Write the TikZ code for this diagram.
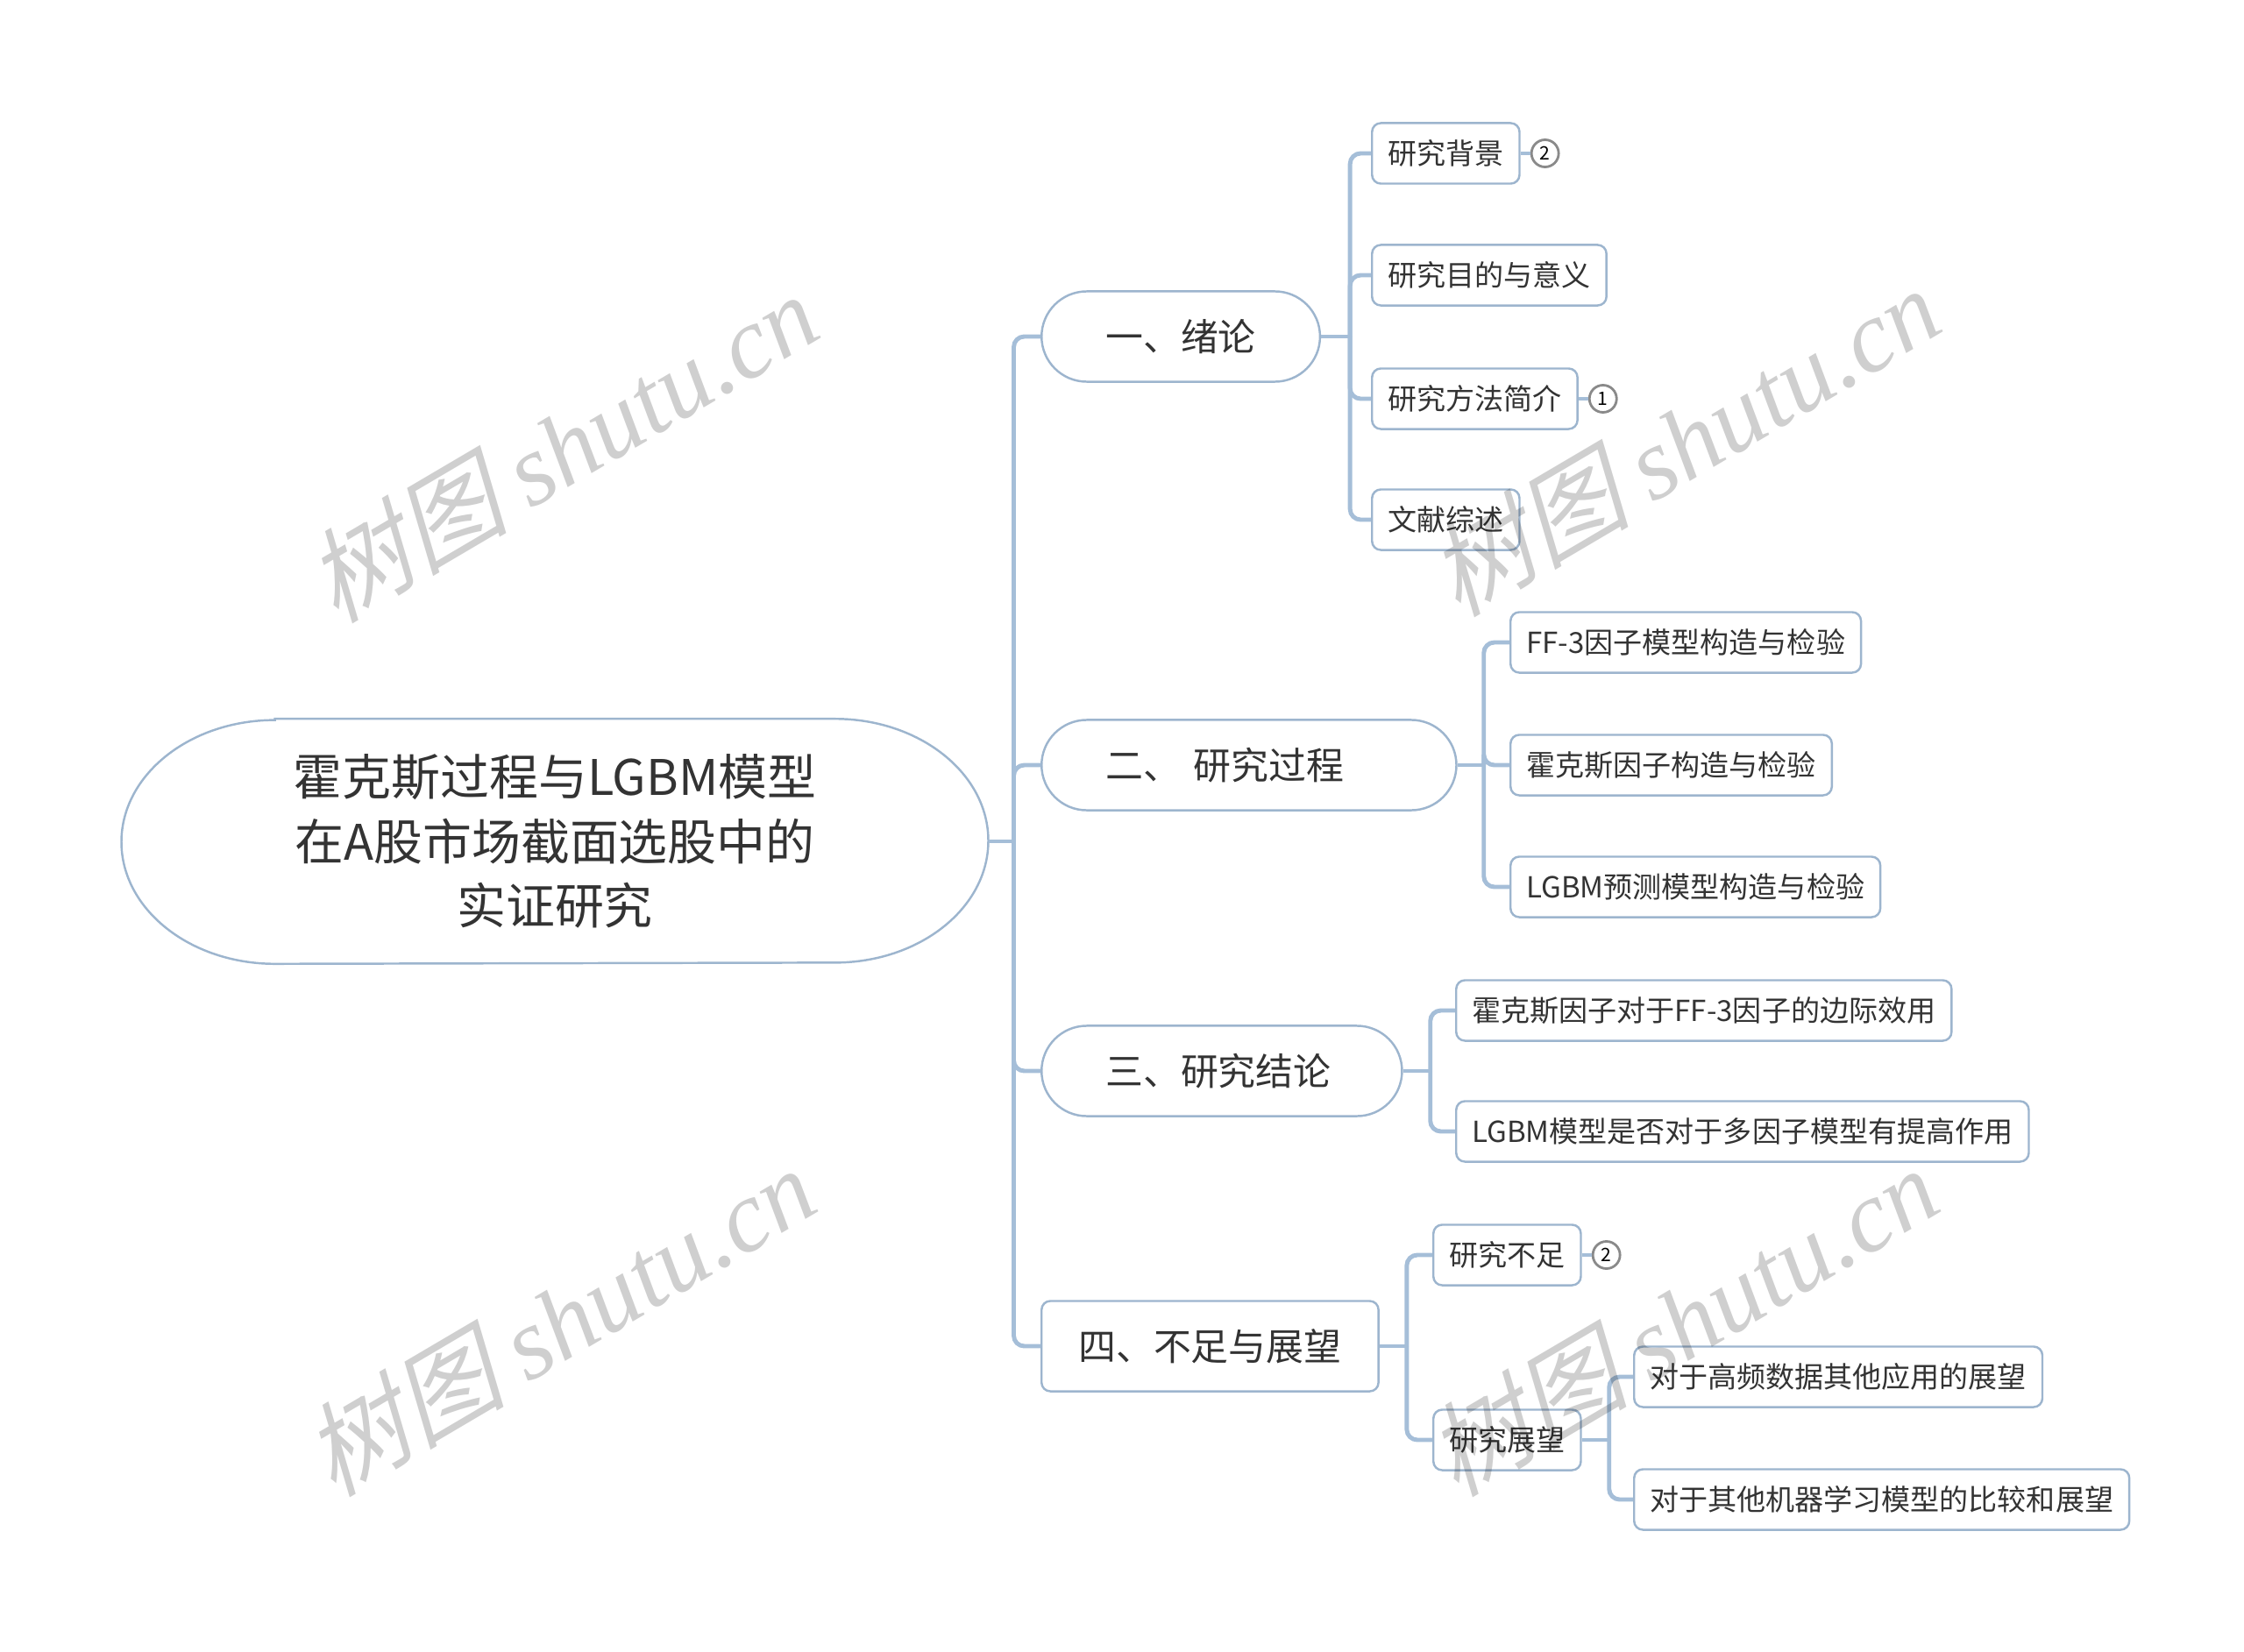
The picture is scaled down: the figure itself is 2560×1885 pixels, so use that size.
\documentclass[tikz,border=0pt]{standalone}
\usepackage{fontspec}
\setmainfont{Noto Sans CJK SC}
\newfontfamily\wmcjk[FakeSlant=0.25]{Noto Sans CJK SC}
\newfontfamily\wmlatin{Liberation Serif}
\usepackage{tikz}
\usetikzlibrary{positioning}

\definecolor{linkblue}{HTML}{A5BED8}
\definecolor{nodeblue}{HTML}{9DB5CE}
\definecolor{txt}{HTML}{333333}
\definecolor{taggray}{HTML}{8A8A8A}

\tikzset{
    link/.style={draw=linkblue, line width=1.4pt, rounded corners=0.12cm},
    rootbox/.style={text=txt, align=center, minimum width=9.87cm, minimum height=2.78cm,
        font=\fontsize{15.9}{20.9}\selectfont},
    rootline/.style={draw=nodeblue, line width=0.7pt},
    topic/.style={draw=nodeblue, line width=0.7pt, fill=white, text=txt, anchor=west,
        rounded corners=0.515cm, minimum height=1.03cm, inner xsep=0.73cm,
        font=\fontsize{12.2}{14}\selectfont},
    leaf/.style={draw=nodeblue, line width=0.7pt, fill=white, text=txt, anchor=west,
        rounded corners=0.1cm, minimum height=0.69cm, inner xsep=0.18cm,
        font=\fontsize{9.4}{11}\selectfont},
    numtag/.style={circle, draw=taggray, line width=0.8pt, fill=white, minimum size=0.31cm,
        inner sep=0pt, font=\fontsize{6}{6}\selectfont},
    wmark/.style={text=black, opacity=0.19, rotate=30.5, font=\fontsize{33}{33}\selectfont},
}

\begin{document}
\begin{tikzpicture}[x=0.01cm, y=-0.01cm]
    \useasboundingbox (0,0) rectangle (2560,1885);
    %% 中心主题
    \node[rootbox] (n0) at (633,960) {霍克斯过程与LGBM模型\\在A股市场截面选股中的\\实证研究};
    \draw[rootline] ([xshift=1.75cm]n0.north west) -- ([xshift=-1.75cm]n0.north east)
        arc[start angle=90, end angle=-90, x radius=1.75cm, y radius=1.39cm]
        -- ([xshift=1.75cm]n0.south west)
        arc[start angle=270, end angle=90, x radius=1.75cm, y radius=1.39cm] -- cycle;

    %% 一级分支
    \node[topic, minimum width=3.15cm] (n1) at (1187,384) {一、绪论};
    \node[topic, text width=3.27cm, align=left] (n2) at (1187,873) {二、 研究过程};
    \node[topic, text width=2.65cm, align=left] (n3) at (1187,1222) {三、研究结论};
    \node[topic, rounded corners=0.1cm, inner xsep=0.42cm] (n4) at (1187,1536) {四、不足与展望};

    %% 二级分支
    \node[leaf] (n11) at (1564,175) {研究背景};
    \node[leaf] (n12) at (1564,314) {研究目的与意义};
    \node[leaf] (n13) at (1564,455) {研究方法简介};
    \node[leaf] (n14) at (1564,593) {文献综述};
    \node[leaf] (n21) at (1722,733) {FF-3因子模型构造与检验};
    \node[leaf] (n22) at (1722,873) {霍克斯因子构造与检验};
    \node[leaf] (n23) at (1722,1012) {LGBM预测模型构造与检验};
    \node[leaf] (n31) at (1660,1153) {霍克斯因子对于FF-3因子的边际效用};
    \node[leaf] (n32) at (1660,1291) {LGBM模型是否对于多因子模型有提高作用};
    \node[leaf] (n41) at (1634,1432) {研究不足};
    \node[leaf] (n42) at (1634,1643) {研究展望};
    \node[leaf] (n421) at (1863,1571) {对于高频数据其他应用的展望};
    \node[leaf] (n422) at (1863,1711) {对于其他机器学习模型的比较和展望};

    % 编号
    \node[numtag, right=0.11cm of n11] (n11c) {2};
    \node[numtag, right=0.11cm of n13] (n13c) {1};
    \node[numtag, right=0.11cm of n41] (n41c) {2};

    % 对各个节点连线
    \draw[link] (n0.east) -- ++(0.29cm,0) coordinate (t0);
    \foreach \b in {n1,n2,n3,n4} \draw[link] (t0) |- (\b.west);
    \draw[link] (n1.east) -- ++(0.33cm,0) coordinate (t1);
    \foreach \b in {n11,n12,n13,n14} \draw[link] (t1) |- (\b.west);
    \draw[link] (n2.east) -- ++(0.30cm,0) coordinate (t2);
    \foreach \b in {n21,n22,n23} \draw[link] (t2) |- (\b.west);
    \draw[link] (n3.east) -- ++(0.31cm,0) coordinate (t3);
    \foreach \b in {n31,n32} \draw[link] (t3) |- (\b.west);
    \draw[link] (n4.east) -- ++(0.31cm,0) coordinate (t4);
    \foreach \b in {n41,n42} \draw[link] (t4) |- (\b.west);
    \draw[link] (n42.east) -- ++(0.31cm,0) coordinate (t42);
    \foreach \b in {n421,n422} \draw[link] (t42) |- (\b.west);
    \foreach \b in {n11,n13,n41} \draw[link] (\b) -- (\b c);

    % 水印
    \foreach \x/\y [count=\i] in {640/510, 1920/503, 637/1507, 1918/1507}
        \node[wmark] (wm\i) at (\x,\y) {{\wmcjk 树图} {\wmlatin\itshape shutu.cn}};
\end{tikzpicture}
\end{document}
